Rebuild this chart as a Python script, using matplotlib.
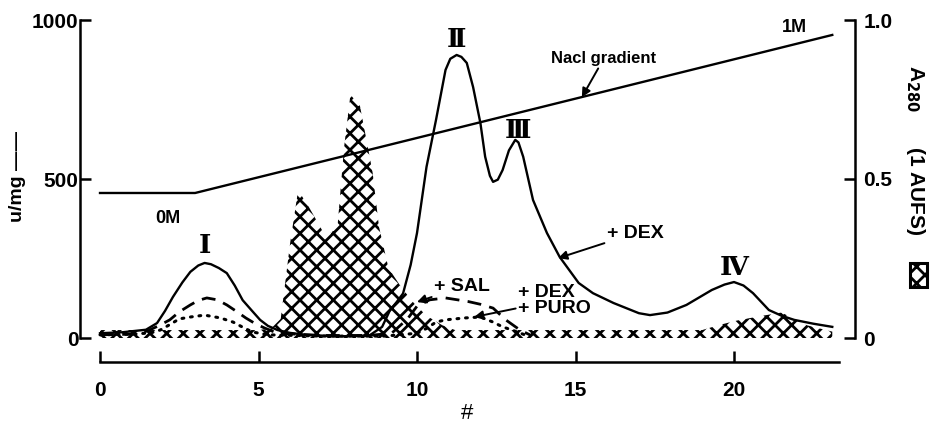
import numpy as np
import matplotlib
matplotlib.use("Agg")
import matplotlib.pyplot as plt
from matplotlib.patches import Rectangle

plt.rcParams['font.family'] = ['Liberation Sans', 'DejaVu Sans']
plt.rcParams['font.weight'] = 'bold'
plt.rcParams['hatch.linewidth'] = 2.0

# u/mg activity, +DEX (solid)
dex_x = [0, 0.7, 1.45, 1.8, 2.05, 2.3, 2.6, 2.85, 3.1, 3.3, 3.5, 3.75, 4.0, 4.25, 4.5,
         4.8, 5.05, 5.3, 5.6, 6.0, 6.5, 7.5, 8.5, 8.9, 9.15, 9.35, 9.56, 9.8, 10.0,
         10.3, 10.6, 10.9, 11.05, 11.25, 11.4, 11.57, 11.77, 12.0, 12.15, 12.3, 12.4,
         12.55, 12.7, 12.9, 13.1, 13.2, 13.35, 13.66, 14.1, 14.5, 15.1, 15.55, 16.2,
         17.0, 17.35, 17.9, 18.5, 19.3, 19.7, 20.0, 20.3, 20.6, 21.1, 21.5, 21.9,
         22.5, 23.1]
dex_y = [15, 18, 26, 47, 85, 129, 175, 208, 228, 236, 232, 220, 204, 165, 119,
         85, 57, 38, 25, 16, 10, 5, 8, 35, 88, 112, 140, 230, 330,
         538, 686, 843, 878, 890, 884, 865, 789, 676, 570, 510, 491,
         498, 528, 590, 623, 615, 570, 434, 330, 255, 173, 141, 110,
         78, 72, 80, 104, 151, 168, 176, 165, 141, 88, 70, 57,
         45, 35]

# +SAL (dashed)
sal_x = [0, 1.0, 1.5, 1.9, 2.2, 2.5, 2.85, 3.1, 3.37, 3.7, 4.0, 4.3, 4.6, 4.9, 5.2,
         5.6, 7.0, 8.5, 9.2, 9.7, 10.0, 10.4, 10.9, 11.6, 12.0, 12.4, 12.8, 13.25, 13.6]
sal_y = [10, 12, 22, 41, 57, 82, 104, 118, 126, 120, 104, 84, 63, 45, 31,
         15, 8, 8, 15, 60, 100, 120, 126, 115, 106, 94, 57, 25, 8]

# +DEX +PURO (dotted)
puro_x = [0, 1.0, 1.6, 1.9, 2.2, 2.5, 2.85, 3.3, 3.8, 4.2, 4.5, 4.8, 5.3, 7.0, 9.0,
          10.0, 10.3, 10.6, 10.9, 11.5, 12.0, 12.4, 12.7, 13.0, 13.4]
puro_y = [10, 12, 16, 25, 42, 60, 66, 72, 63, 50, 34, 19, 10, 6, 6,
          15, 30, 50, 57, 63, 66, 50, 35, 25, 10]

# A280 (hatched, right axis)
a280_x = [0, 5.0, 5.4, 5.7, 6.0, 6.25, 6.6, 7.0, 7.3, 7.5, 7.7, 7.9, 8.2, 8.45, 8.6,
          8.8, 9.1, 9.5, 9.9, 10.3, 10.8, 11.2, 19.0, 19.5, 20.1, 20.9, 21.5, 21.9,
          22.3, 22.9, 23.1]
a280_y = [0.025, 0.025, 0.03, 0.06, 0.3, 0.465, 0.41, 0.34, 0.33, 0.36, 0.6, 0.765,
          0.73, 0.6, 0.52, 0.35, 0.22, 0.16, 0.11, 0.07, 0.04, 0.025, 0.025, 0.04,
          0.055, 0.07, 0.08, 0.06, 0.04, 0.025, 0.02]

# NaCl gradient
grad_x = [0, 3.0, 23.1]
grad_y = [456, 456, 953]

W, H = 931, 426
fig = plt.figure(figsize=(W / 100, H / 100), dpi=100)
ax = fig.add_axes([80 / W, 1 - 362 / H, (855 - 80) / W, (362 - 20) / H])
ax2 = ax.twinx()

xlo, xhi = (80 - 100) / 31.7, (855 - 100) / 31.7
ylo = (338 - 362) / 0.318
ax.set_xlim(xlo, xhi)
ax.set_ylim(ylo, 1000)
ax2.set_ylim(ylo / 1000, 1.0)

ax2.fill_between(a280_x, 0, a280_y, facecolor='none', edgecolor='black',
                 linewidth=0, hatch='xx')
ax.plot(grad_x, grad_y, color='black', lw=1.7)
ax.plot(dex_x, dex_y, color='black', lw=1.7)
ax.plot(sal_x, sal_y, color='black', lw=2, ls=(0, (5, 3)))
ax.plot(puro_x, puro_y, color='black', lw=2.2, ls=(0, (0.6, 2.2)), dash_capstyle='round')

for s in ['top', 'right']:
    ax.spines[s].set_visible(False)
for s in ['top', 'left', 'bottom']:
    ax2.spines[s].set_visible(False)
for sp in [ax.spines['left'], ax.spines['bottom'], ax2.spines['right']]:
    sp.set_linewidth(1.8)
ax.spines['left'].set_bounds(0, 1000)
ax.spines['bottom'].set_bounds(0, 23.3)
ax2.spines['right'].set_bounds(0, 1.0)

ax.set_xticks([0, 5, 10, 15, 20])
ax.set_yticks([0, 500, 1000])
ax2.set_yticks([0, 0.5, 1.0])
ax2.set_yticklabels(['0', '0.5', '1.0'])
ax.tick_params(axis='both', direction='in', length=8, width=1.8, labelsize=15)
ax.tick_params(axis='x', pad=14)
ax.tick_params(axis='y', pad=1)
ax2.tick_params(axis='y', direction='in', length=8, width=1.8, labelsize=15, pad=6)

ax.set_xlabel('#', fontsize=16, labelpad=2)

fig.text(18 / W, 1 - 176 / H, 'u/mg ——', rotation=90, ha='center', va='center', fontsize=14)
fig.text(916 / W, 1 - 150 / H, 'A$_{\\mathbf{280}}$      (1 AUFS)', rotation=270,
         ha='center', va='center', fontsize=15)
fig.patches.append(Rectangle((910 / W, 1 - 287 / H), 17 / W, 24 / H, transform=fig.transFigure,
                             facecolor='white', edgecolor='black', lw=2.2, hatch='xx'))

ax.text(2.15, 377, '0M', fontsize=13, ha='center', va='center')
ax.text(21.9, 975, '1M', fontsize=13, ha='center', va='center')

roman = dict(fontsize=19, fontweight='bold', ha='center', va='center',
             family=['DejaVu Serif', 'DejaVu Sans'])
ax.text(3.3, 290, 'Ⅰ', **roman)
ax.text(11.26, 940, 'Ⅱ', **roman)
ax.text(13.2, 654, 'Ⅲ', **roman)
ax.text(20.0, 222, 'Ⅳ', **roman)

arrow = dict(arrowstyle='-|>', color='black', lw=1.4, mutation_scale=13, shrinkA=0, shrinkB=0)
ax.annotate('Nacl gradient', xy=(15.2, 757), xytext=(15.9, 880), fontsize=12,
            ha='center', va='center', arrowprops=arrow)
ax.annotate('+ DEX', xy=(14.45, 251), xytext=(16.0, 330), fontsize=14,
            ha='left', va='center', arrowprops=arrow)
ax.annotate('+ SAL', xy=(10.0, 113), xytext=(10.55, 162), fontsize=14,
            ha='left', va='center', arrowprops=arrow)
ax.annotate('+ DEX\n+ PURO', xy=(11.8, 66), xytext=(13.2, 118), fontsize=14,
            ha='left', va='center', linespacing=0.85, arrowprops=arrow)

fig.savefig('out.png', dpi=100)
